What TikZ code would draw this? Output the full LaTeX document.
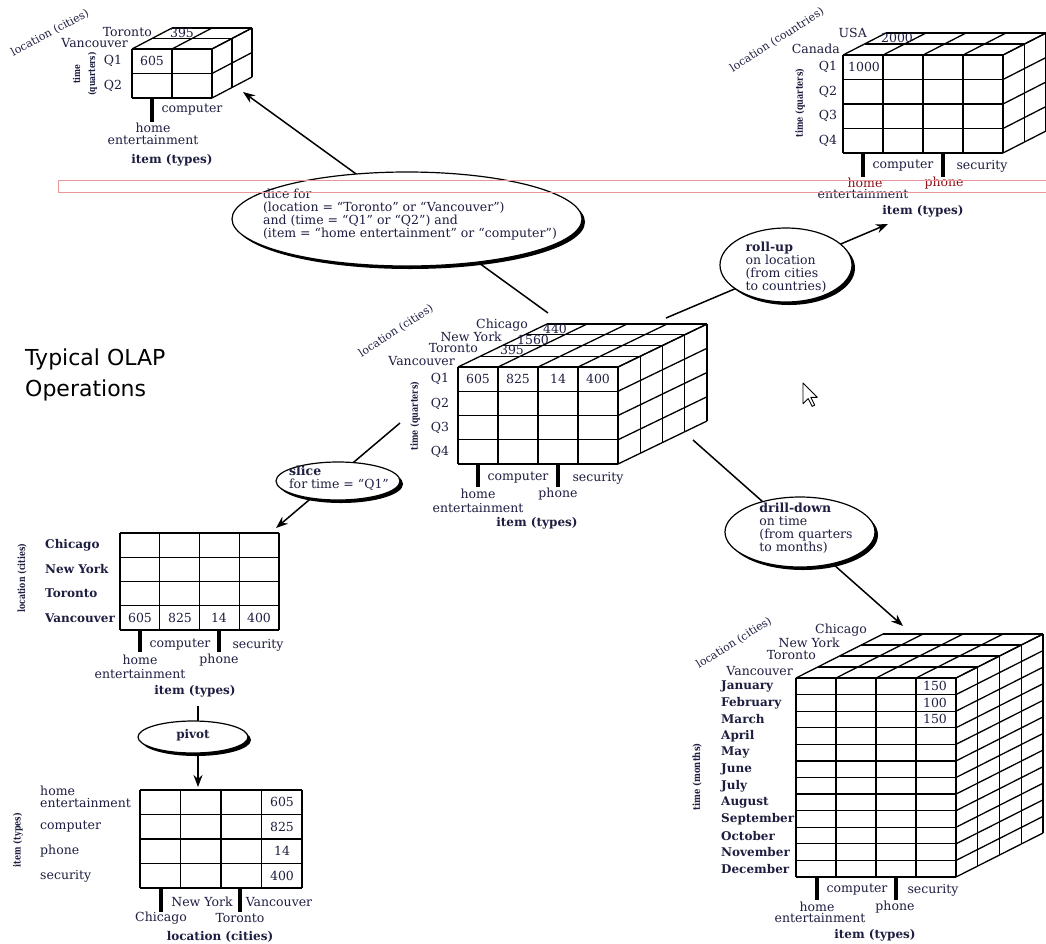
\documentclass[tikz,border=0pt]{standalone}
\usepackage{fontspec}
\setmainfont{DejaVu Serif}
\newfontfamily\olapsans{DejaVu Sans}
\usetikzlibrary{arrows.meta,shapes.geometric,shadows}
\definecolor{ink}{RGB}{30,30,65}
\definecolor{hilite}{RGB}{140,20,25}
\definecolor{selpink}{RGB}{235,150,155}

% front face origin (#1,#2), cell size #3 x #4, #5 columns, #6 rows,
% #7 depth layers, each layer shifted by (#8,#9)
\newcommand{\datacube}[9]{%
  \foreach \i in {0,...,#5}
    \draw[gridline] ({#1+\i*#3},#2) -- ({#1+\i*#3},{#2+#6*#4});
  \foreach \j in {0,...,#6}
    \draw[gridline] (#1,{#2+\j*#4}) -- ({#1+#5*#3},{#2+\j*#4});
  \foreach \i in {0,...,#5}
    \draw[gridline] ({#1+\i*#3},#2) -- ++({#7*(#8)},{#7*(#9)});
  \foreach \k in {1,...,#7}
    \draw[gridline] ({#1+\k*(#8)},{#2+\k*(#9)}) -- ++({#5*#3},0);
  \foreach \j in {0,...,#6}
    \draw[gridline] ({#1+#5*#3},{#2+\j*#4}) -- ++({#7*(#8)},{#7*(#9)});
  \foreach \k in {1,...,#7}
    \draw[gridline] ({#1+#5*#3+\k*(#8)},{#2+\k*(#9)}) -- ++(0,{#6*#4});
}
% flat table: origin (#1,#2), cell size #3 x #4, #5 columns, #6 rows
\newcommand{\flatgrid}[6]{%
  \foreach \i in {0,...,#5}
    \draw[gridline] ({#1+\i*#3},#2) -- ({#1+\i*#3},{#2+#6*#4});
  \foreach \j in {0,...,#6}
    \draw[gridline] (#1,{#2+\j*#4}) -- ({#1+#5*#3},{#2+\j*#4});
}

\begin{document}
\begin{tikzpicture}[x=1pt,y=-1pt,
  gridline/.style={line width=1.3pt, line join=round},
  lab/.style={inner sep=0pt, text=ink, font=\fontsize{12.5}{13}\selectfont},
  blab/.style={lab, font=\bfseries\fontsize{12}{13}\selectfont},
  rotlab/.style={inner sep=0pt, text=ink, rotate=90, font=\bfseries\fontsize{10}{11}\selectfont},
  axlab/.style={lab, font=\fontsize{11}{12}\selectfont},
  tickbar/.style={line width=3.2pt},
  flow/.style={line width=1.5pt, -{Stealth[length=12pt,width=9pt]}},
  bubble/.style={ellipse, draw=black, line width=1.2pt, fill=white, inner sep=0pt,
    drop shadow={shadow xshift=3pt, shadow yshift=-3pt, opacity=1, fill=black}},
  bubbletext/.style={lab, align=left}
]
\fill[white] (0,0) rectangle (1046,943);
\useasboundingbox (0,0) rectangle (1046,943);

% ---------- title ----------
\node[anchor=base west, inner sep=0pt, font=\olapsans\fontsize{22}{26}\selectfont] (title1) at (25,365) {Typical OLAP};
\node[anchor=base west, inner sep=0pt, font=\olapsans\fontsize{22}{26}\selectfont] (title2) at (25,396) {Operations};

% ---------- operation flows ----------
\coordinate (c-dice) at (548,313);  \coordinate (d-in) at (243,92);
\coordinate (c-roll) at (666,318);  \coordinate (r-in) at (888,224);
\coordinate (c-slice) at (400,423); \coordinate (s-in) at (276,528);
\coordinate (c-drill) at (693,440); \coordinate (m-in) at (903,626);
\coordinate (s-pivot) at (198,706); \coordinate (p-in) at (198,787);
\draw[flow] (c-dice) -- (d-in);
\draw[flow] (c-roll) -- (r-in);
\draw[flow] (c-slice) -- (s-in);
\draw[flow] (c-drill) -- (m-in);
\draw[flow] (s-pivot) -- (p-in);

% ---------- central cube ----------
\datacube{458}{367}{40}{24.25}{4}{4}{4}{22.25}{-10.75}
\node[lab, anchor=east] (c-chi) at (528,325) {Chicago};
\node[lab, anchor=east] (c-ny) at (502,337) {New York};
\node[lab, anchor=east] (c-tor) at (478,348) {Toronto};
\node[lab, anchor=east] (c-van) at (455,361) {Vancouver};
\node[lab] (c-v440) at (555,329) {440};
\node[lab] (c-v1560) at (533,340) {1560};
\node[lab] (c-v395) at (512,350) {395};
\foreach \q [count=\k] in {Q1,Q2,Q3,Q4}
  \node[lab] (c-q\k) at (440,{367+24.25*(\k-0.5)}) {\q};
\node[lab] (c-605) at (478,379) {605};
\node[lab] (c-825) at (518,379) {825};
\node[lab] (c-14) at (558,379) {14};
\node[lab] (c-400) at (598,379) {400};
\node[rotlab] (c-time) at (415,416) {\scalebox{0.8}[1]{time (quarters)}};
\node[axlab, rotate=33] (c-loc) at (396,331) {location (cities)};
\draw[tickbar] (478,464) -- (478,487);
\draw[tickbar] (558,464) -- (558,487);
\node[lab] (c-comp) at (518,478) {computer};
\node[lab] (c-sec) at (598,478) {security};
\node[lab] (c-home) at (478,494) {home};
\node[lab] (c-phone) at (558,494) {phone};
\node[lab] (c-ent) at (478,508) {entertainment};
\node[blab] (c-item) at (537,523) {item (types)};

% ---------- dice result ----------
\datacube{132}{49}{40}{24.5}{2}{2}{2}{20}{-10.5}
\node[lab, anchor=east] (d-tor) at (152,32) {Toronto};
\node[lab, anchor=east] (d-van) at (128,43) {Vancouver};
\node[lab] (d-v395) at (182,33) {395};
\node[lab] (d-q1) at (113,61) {Q1};
\node[lab] (d-q2) at (113,86) {Q2};
\node[lab] (d-605) at (152,61) {605};
\node[rotlab, align=center, font=\bfseries\fontsize{9.5}{15}\selectfont] (d-time) at (85,74)
  {\scalebox{0.8}[1]{time}\\\scalebox{0.8}[1]{(quarters)}};
\node[axlab, rotate=28] (d-loc) at (50,33) {location (cities)};
\draw[tickbar] (152,98) -- (152,122);
\node[lab] (d-comp) at (192,110) {computer};
\node[lab] (d-home) at (153,128) {home};
\node[lab] (d-ent) at (153,140) {entertainment};
\node[blab] (d-item) at (172,160) {item (types)};

% ---------- roll-up result ----------
\datacube{843}{55}{40}{24.5}{4}{4}{2}{21.5}{-11}
\node[lab, anchor=east] (r-usa) at (867,33) {USA};
\node[lab, anchor=east] (r-can) at (840,49) {Canada};
\node[lab] (r-v2000) at (897,38) {2000};
\foreach \q [count=\k] in {Q1,Q2,Q3,Q4}
  \node[lab] (r-q\k) at (828,{55+24.5*(\k-0.5)}) {\q};
\node[lab] (r-1000) at (864,67) {1000};
\node[rotlab] (r-time) at (800,103) {\scalebox{0.8}[1]{time (quarters)}};
\node[axlab, rotate=32.5] (r-loc) at (777,40) {location (countries)};
\draw[tickbar] (863,153) -- (863,177);
\draw[tickbar] (943,153) -- (943,177);
\node[lab] (r-comp) at (903,166) {computer};
\node[lab] (r-sec) at (982,166) {security};
\node[lab, text=hilite] (r-home) at (865,183) {home};
\node[lab, text=hilite] (r-phone) at (944,183) {phone};
\node[lab] (r-ent) at (863,194) {entertainment};
\node[blab] (r-item) at (923,211) {item (types)};

% ---------- drill-down result ----------
\datacube{796}{678}{40}{16.583}{4}{12}{4}{21.75}{-11}
\node[lab, anchor=east] (m-chi) at (867,630) {Chicago};
\node[lab, anchor=east] (m-ny) at (840,643) {New York};
\node[lab, anchor=east] (m-tor) at (816,655) {Toronto};
\node[lab, anchor=east] (m-van) at (793,671) {Vancouver};
\foreach \mo [count=\k] in {January,February,March,April,May,June,July,August,September,October,November,December}
  \node[blab, anchor=west] (m-mon\k) at (721,{678+16.583*(\k-0.5)}) {\mo};
\node[lab] (m-150a) at (935,686) {150};
\node[lab] (m-100) at (935,703) {100};
\node[lab] (m-150b) at (935,719) {150};
\node[rotlab] (m-time) at (697,777) {\scalebox{0.84}[1]{time (months)}};
\node[axlab, rotate=32] (m-loc) at (734,643) {location (cities)};
\draw[tickbar] (817,877) -- (817,900);
\draw[tickbar] (896,877) -- (896,900);
\node[lab] (m-comp) at (857,890) {computer};
\node[lab] (m-sec) at (933,890) {security};
\node[lab] (m-home) at (817,907) {home};
\node[lab] (m-phone) at (895,907) {phone};
\node[lab] (m-ent) at (820,918) {entertainment};
\node[blab] (m-item) at (875,935) {item (types)};

% ---------- slice result ----------
\flatgrid{120}{533}{39.75}{24.25}{4}{4}
\foreach \city [count=\k] in {Chicago,New York,Toronto,Vancouver}
  \node[blab, anchor=west] (s-row\k) at (45,{533+24.25*(\k-0.5)}) {\city};
\node[lab] (s-605) at (140,618) {605};
\node[lab] (s-825) at (180,618) {825};
\node[lab] (s-14) at (219,618) {14};
\node[lab] (s-400) at (259,618) {400};
\node[rotlab] (s-loc) at (22,578) {\scalebox{0.78}[1]{location (cities)}};
\draw[tickbar] (140,630) -- (140,652);
\draw[tickbar] (219,630) -- (219,652);
\node[lab] (s-comp) at (180,645) {computer};
\node[lab] (s-sec) at (258,645) {security};
\node[lab] (s-home) at (140,660) {home};
\node[lab] (s-phone) at (219,660) {phone};
\node[lab] (s-ent) at (140,674) {entertainment};
\node[blab] (s-item) at (195,691) {item (types)};

% ---------- pivot result ----------
\flatgrid{140}{790}{40.5}{24.5}{4}{4}
\node[lab, anchor=west] (p-home) at (40,791) {home};
\node[lab, anchor=west] (p-ent) at (40,803) {entertainment};
\node[lab, anchor=west] (p-comp) at (40,827) {computer};
\node[lab, anchor=west] (p-phone) at (40,851) {phone};
\node[lab, anchor=west] (p-sec) at (40,876) {security};
\node[lab] (p-605) at (282,802) {605};
\node[lab] (p-825) at (282,827) {825};
\node[lab] (p-14) at (282,851) {14};
\node[lab] (p-400) at (282,876) {400};
\node[rotlab] (p-item) at (18,840) {\scalebox{0.8}[1]{item (types)}};
\draw[tickbar] (161,888) -- (161,912);
\draw[tickbar] (240,888) -- (240,912);
\node[lab] (p-ny) at (202,902) {New York};
\node[lab] (p-van) at (279,902) {Vancouver};
\node[lab] (p-chi) at (161,918) {Chicago};
\node[lab] (p-tor) at (240,918) {Toronto};
\node[blab] (p-loc) at (220,937) {location (cities)};

% ---------- operation bubbles ----------
\node[bubble, minimum width=350pt, minimum height=94pt] (dice) at (407,219) {};
\node[bubbletext] (dice-txt) at (410,215) {dice for\\(location = “Toronto” or “Vancouver”)\\and (time = “Q1” or “Q2”) and\\(item = “home entertainment” or “computer”)};
\node[bubble, minimum width=132pt, minimum height=74pt] (roll) at (786,265) {};
\node[bubbletext] (roll-txt) at (786,267) {\textbf{roll-up}\\on location\\(from cities\\to countries)};
\node[bubble, minimum width=124pt, minimum height=38pt] (slice) at (338,481) {};
\node[bubbletext] (slice-txt) at (339,478) {\textbf{slice}\\for time = “Q1”};
\node[bubble, minimum width=150pt, minimum height=70pt] (drill) at (800,532) {};
\node[bubbletext] (drill-txt) at (806,528) {\textbf{drill-down}\\on time\\(from quarters\\to months)};
\node[bubble, minimum width=110pt, minimum height=32pt] (pivot) at (193,737) {};
\node[lab, font=\bfseries\fontsize{12}{13}\selectfont] (pivot-txt) at (193,735) {pivot};

% ---------- selection outline and pointer ----------
\draw[selpink, line width=0.6pt] (1046,180) -- (58,180) -- (58,192) -- (1046,192);
\draw[fill=white, line width=0.9pt, line join=round] (803,383) -- ++(0,20.8) -- ++(5.2,-5.2)
  -- ++(3.9,7.8) -- ++(2.6,-1.3) -- ++(-3.9,-7.8) -- ++(6.5,0) -- cycle;
\end{tikzpicture}
\end{document}
